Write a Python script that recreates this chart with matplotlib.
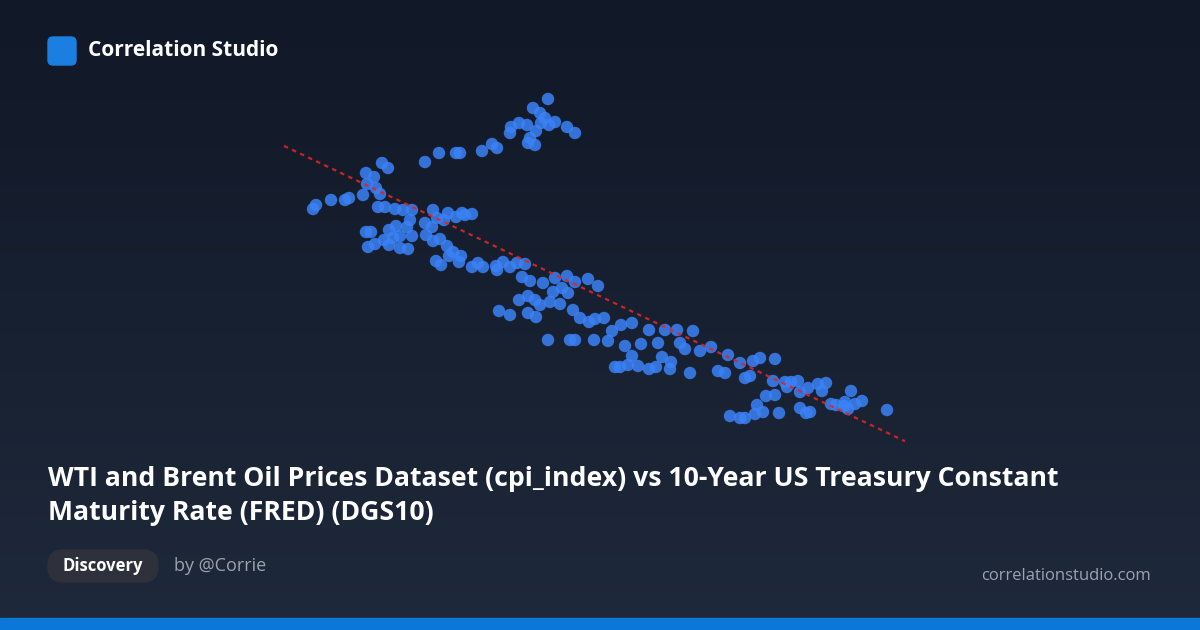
import numpy as np
import matplotlib
matplotlib.use('Agg')
import matplotlib.pyplot as plt
from matplotlib.patches import FancyBboxPatch, Rectangle

# cpi_index (x) vs DGS10 (y)
cpi = [548, 533, 540, 545, 541, 549, 555, 567, 575, 519, 511, 527, 536, 530, 535, 528, 510, 497, 492, 482,
       460, 456, 439, 425, 382, 388, 366, 374, 367, 376, 363, 380, 349, 345, 331, 316, 313, 385, 378, 395,
       403, 412, 433, 448, 456, 462, 472, 465, 444, 437, 425, 432, 410, 407, 396, 389, 371, 366, 393, 400,
       412, 384, 375, 368, 389, 400, 408, 426, 433, 440, 447, 453, 461, 449, 436, 441, 459, 478, 483, 496,
       503, 510, 517, 525, 472, 497, 522, 530, 543, 555, 567, 575, 588, 598, 562, 553, 568, 528, 535, 519,
       550, 560, 540, 536, 528, 510, 499, 573, 580, 595, 589, 604, 612, 632, 649, 665, 677, 693, 621, 548,
       570, 575, 594, 608, 625, 632, 641, 658, 662, 680, 685, 700, 711, 728, 740, 753, 760, 775, 615, 620,
       628, 638, 649, 656, 670, 671, 690, 718, 725, 745, 750, 773, 785, 791, 798, 787, 800, 808, 818, 826,
       822, 831, 836, 845, 851, 855, 862, 848, 844, 887, 766, 775, 763, 779, 800, 806, 810, 730, 740, 745,
       755, 757]
dgs10 = [3.51, 3.42, 3.37, 3.32, 3.27, 3.25, 3.28, 3.23, 3.17, 3.27, 3.23, 3.25, 3.19, 3.12, 3.05, 3.07, 3.17, 3.02, 3.06, 2.99,
         2.97, 2.97, 2.97, 2.88, 2.87, 2.82, 2.77, 2.73, 2.66, 2.62, 2.55, 2.56, 2.52, 2.50, 2.50, 2.45, 2.41, 2.43, 2.43, 2.41,
         2.40, 2.40, 2.40, 2.37, 2.33, 2.37, 2.36, 2.35, 2.30, 2.32, 2.27, 2.23, 2.30, 2.23, 2.24, 2.20, 2.18, 2.18, 2.12, 2.14,
         2.14, 2.10, 2.06, 2.03, 2.05, 2.02, 2.01, 2.15, 2.09, 2.11, 2.04, 1.98, 1.94, 1.94, 1.89, 1.85, 1.88, 1.87, 1.83, 1.84,
         1.88, 1.83, 1.87, 1.86, 1.83, 1.80, 1.73, 1.69, 1.67, 1.72, 1.74, 1.68, 1.71, 1.64, 1.62, 1.58, 1.57, 1.54, 1.50, 1.50,
         1.48, 1.46, 1.45, 1.33, 1.37, 1.35, 1.39, 1.40, 1.32, 1.31, 1.28, 1.32, 1.19, 1.27, 1.20, 1.20, 1.20, 1.19, 1.25, 1.10,
         1.10, 1.10, 1.10, 1.09, 1.04, 0.94, 1.06, 1.07, 0.93, 1.07, 1.01, 0.99, 1.03, 0.95, 0.87, 0.89, 0.92, 0.91, 0.83, 0.83,
         0.85, 0.84, 0.81, 0.83, 0.81, 0.88, 0.77, 0.79, 0.77, 0.72, 0.74, 0.69, 0.68, 0.68, 0.69, 0.63, 0.58, 0.62, 0.66, 0.67,
         0.59, 0.46, 0.45, 0.48, 0.59, 0.46, 0.49, 0.41, 0.44, 0.40, 0.54, 0.55, 0.38, 0.37, 0.42, 0.37, 0.38, 0.34, 0.32, 0.32,
         0.36, 0.45]

W, H = 1200, 630
FONT = 'Open Sans'
fig = plt.figure(figsize=(12, 6.3), dpi=100)

# background gradient
bg = fig.add_axes([0, 0, 1, 1])
grad = np.linspace(0, 1, 256).reshape(-1, 1)
top = np.array([0x11, 0x18, 0x27]) / 255
bot = np.array([0x1e, 0x29, 0x3b]) / 255
img = top + (bot - top) * grad[..., None]
bg.imshow(img, aspect='auto', extent=[0, W, H, 0])
bg.set_xlim(0, W)
bg.set_ylim(H, 0)
bg.axis('off')
bg.add_patch(Rectangle((0, 618), W, 12, color='#0b78d8'))
bg.add_patch(FancyBboxPatch((48, 37), 28, 28, boxstyle='round,pad=0,rounding_size=5',
                            color='#1a7fe0'))
bg.text(88, 50, 'Correlation Studio', color='white', fontsize=15, fontweight='bold',
        va='center', family=FONT)
bg.text(48, 479, 'WTI and Brent Oil Prices Dataset (cpi_index) vs 10-Year US Treasury Constant',
        color='white', fontsize=19.2, fontweight='bold', va='center', family=FONT)
bg.text(48, 513, 'Maturity Rate (FRED) (DGS10)',
        color='white', fontsize=19.2, fontweight='bold', va='center', family=FONT)
bg.add_patch(FancyBboxPatch((48, 550), 110, 32, boxstyle='round,pad=0,rounding_size=15',
                            color='#2e303b'))
bg.text(103, 566, 'Discovery', color='white', fontsize=12, fontweight='bold',
        ha='center', va='center', family=FONT)
bg.text(174, 566, 'by @Corrie', color='#9ca3af', fontsize=13, va='center', family=FONT)
bg.text(1151, 576, 'correlationstudio.com', color='#9ca3af', fontsize=12, ha='right',
        va='center', family=FONT)

# scatter panel
ax = fig.add_axes([280 / W, 1 - 445 / H, 630 / W, 355 / H])
ax.set_xlim(280, 910)
ax.set_ylim(0.05, 3.6)
ax.axis('off')
ax.scatter(cpi, dgs10, s=80, color='#3b82f6', alpha=0.85, edgecolors='none', zorder=2)
k, b = np.polyfit(cpi, dgs10, 1)
xs = np.array([284, 905])
ax.plot(xs, k * xs + b, color='#dc2626', lw=1.6, ls=(0, (2, 2)), alpha=0.9, zorder=3)

fig.savefig('out.png', dpi=100)
